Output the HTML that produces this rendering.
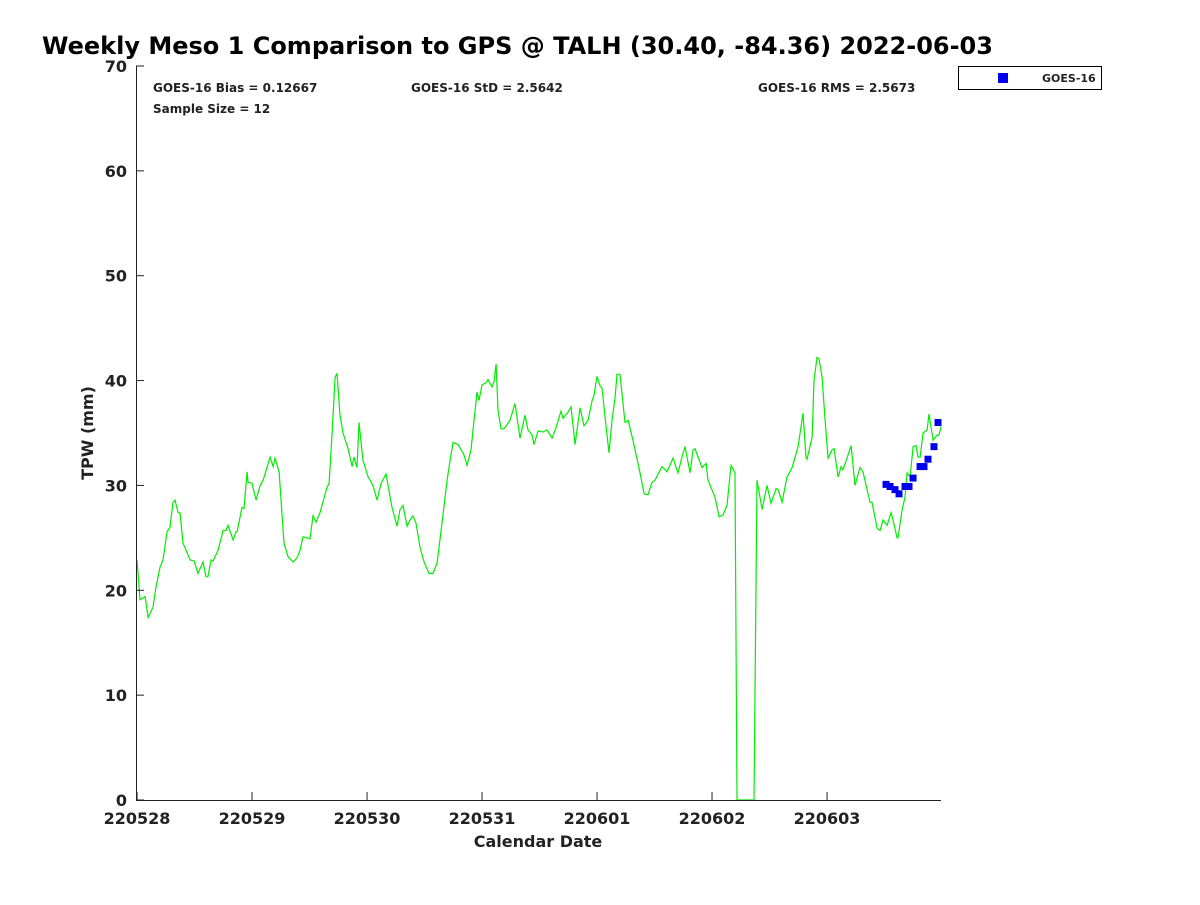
<!DOCTYPE html>
<html><head><meta charset="utf-8"><style>
body{margin:0;background:#fff;}
svg text{font-family:"DejaVu Sans","Liberation Sans",sans-serif;font-weight:bold;fill:#222;}
</style></head><body>
<svg id="chart" width="1200" height="900" xmlns="http://www.w3.org/2000/svg">
<rect width="1200" height="900" fill="#fff"/>
<text x="42" y="54" font-size="24" fill="#000" style="fill:#000">Weekly Meso 1 Comparison to GPS @ TALH (30.40, -84.36) 2022-06-03</text>
<text x="153" y="92" font-size="12">GOES-16 Bias = 0.12667</text>
<text x="411" y="92" font-size="12">GOES-16 StD = 2.5642</text>
<text x="758" y="92" font-size="12">GOES-16 RMS = 2.5673</text>
<text x="153" y="113" font-size="12">Sample Size = 12</text>
<g id="marks"></g>
<g id="axes"></g>
<text x="538" y="847" font-size="16" text-anchor="middle">Calendar Date</text>
<text transform="translate(93,433) rotate(-90)" font-size="16" text-anchor="middle">TPW (mm)</text>
<g>
<rect x="958.5" y="66.5" width="143" height="23" fill="#fff" stroke="#000" stroke-width="1"/>
<rect x="998" y="73" width="10" height="10" fill="#0000ee"/>
<text x="1042" y="82" font-size="11">GOES-16</text>
</g>
</svg>
<script>
const gpsDays=[0,0.026,0.070,0.096,0.139,0.165,0.200,0.226,0.261,0.287,0.313,0.330,0.357,0.374,0.400,0.461,0.496,0.530,0.574,0.600,0.617,0.643,0.661,0.704,0.748,0.774,0.791,0.835,0.861,0.870,0.913,0.930,0.957,0.965,1.000,1.035,1.070,1.096,1.130,1.157,1.183,1.200,1.235,1.278,1.313,1.357,1.391,1.417,1.443,1.478,1.504,1.530,1.557,1.591,1.652,1.670,1.696,1.722,1.739,1.765,1.791,1.835,1.870,1.887,1.913,1.930,1.965,2.009,2.052,2.087,2.122,2.165,2.217,2.261,2.287,2.313,2.348,2.374,2.400,2.426,2.461,2.496,2.539,2.574,2.609,2.652,2.696,2.722,2.748,2.791,2.843,2.870,2.904,2.930,2.957,2.974,3.000,3.035,3.052,3.087,3.104,3.122,3.139,3.165,3.191,3.243,3.287,3.330,3.374,3.400,3.435,3.452,3.487,3.530,3.565,3.609,3.643,3.687,3.704,3.748,3.774,3.809,3.852,3.887,3.922,3.957,3.974,4.000,4.026,4.043,4.070,4.104,4.130,4.157,4.174,4.200,4.243,4.270,4.313,4.374,4.409,4.443,4.478,4.504,4.565,4.609,4.661,4.704,4.739,4.765,4.809,4.835,4.852,4.913,4.948,4.965,5.026,5.061,5.096,5.130,5.165,5.200,5.217,5.365,5.391,5.435,5.478,5.513,5.557,5.574,5.609,5.652,5.696,5.748,5.791,5.817,5.826,5.870,5.887,5.913,5.930,5.957,5.983,6.009,6.043,6.061,6.096,6.122,6.139,6.174,6.209,6.243,6.287,6.313,6.374,6.391,6.435,6.461,6.487,6.522,6.557,6.574,6.609,6.617,6.652,6.678,6.696,6.722,6.748,6.774,6.791,6.809,6.835,6.870,6.887,6.922,6.957,6.974,6.991];
const gpsTpw=[22.9,19.1,19.4,17.4,18.4,20.3,22.2,22.9,25.6,26.0,28.4,28.6,27.4,27.4,24.5,22.9,22.8,21.6,22.7,21.3,21.3,22.9,22.8,23.8,25.7,25.7,26.2,24.8,25.6,25.6,27.9,27.8,31.3,30.3,30.2,28.6,30.0,30.5,31.7,32.7,31.8,32.6,31.3,24.5,23.2,22.7,23.1,23.8,25.1,25.0,24.9,27.1,26.5,27.4,29.8,30.2,35.0,40.3,40.7,36.7,35.0,33.5,31.8,32.7,31.7,36.0,32.4,30.8,30.0,28.6,30.2,31.1,27.9,26.1,27.7,28.1,26.1,26.7,27.1,26.4,24.1,22.7,21.6,21.6,22.6,26.4,30.5,32.4,34.1,33.9,32.9,31.9,33.4,36.2,38.9,38.1,39.6,39.8,40.1,39.4,39.9,41.6,37.2,35.4,35.4,36.2,37.8,34.5,36.7,35.3,34.8,33.9,35.2,35.1,35.3,34.5,35.5,37.1,36.4,37.0,37.5,33.9,37.4,35.7,36.2,38.1,38.6,40.4,39.5,39.3,36.5,33.1,36.2,38.4,40.6,40.6,36.0,36.2,34.3,31.2,29.2,29.1,30.3,30.5,31.8,31.3,32.6,31.2,32.7,33.7,31.2,33.4,33.5,31.7,32.1,30.5,28.9,27.0,27.2,28.1,31.9,31.2,0,0,30.5,27.7,30.0,28.3,29.7,29.6,28.4,30.8,31.7,33.7,36.9,32.7,32.5,34.6,40.0,42.2,42.1,40.3,36.2,32.6,33.4,33.5,30.8,31.8,31.5,32.6,33.8,30.0,31.7,31.3,28.4,28.4,25.9,25.7,26.7,26.2,27.4,26.7,25.0,25.0,27.6,28.9,31.2,30.8,33.7,33.8,32.7,32.7,35.0,35.3,36.8,34.3,34.8,34.8,35.6];
const goesDays=[6.513,6.548,6.591,6.626,6.678,6.713,6.748,6.809,6.843,6.878,6.930,6.965];
const goesTpw=[30.1,29.9,29.6,29.2,29.9,29.9,30.7,31.8,31.8,32.5,33.7,36.0];
const xTickLabels=["220528","220529","220530","220531","220601","220602","220603"];
const yTicks=[0,10,20,30,40,50,60,70];

const L=136,R=941,T=66,B=800,X0=-0.009,X1=6.991,Y0=0,Y1=70;
const xs=d=>L+(d-X0)/(X1-X0)*(R-L);
const ys=v=>B-(v-Y0)/(Y1-Y0)*(B-T);
const NS="http://www.w3.org/2000/svg";
const marks=document.getElementById('marks'),axes=document.getElementById('axes');
function mk(tag,attrs,parent){const e=document.createElementNS(NS,tag);for(const k in attrs)e.setAttribute(k,attrs[k]);parent.appendChild(e);return e;}

const line=mk('polyline',{points:gpsDays.map((d,i)=>xs(d).toFixed(1)+','+ys(gpsTpw[i]).toFixed(1)).join(' '),fill:'none',stroke:'#00ee00','stroke-width':1.2},marks);


goesDays.forEach((d,i)=>{
  const r=mk('rect',{x:xs(d)-3.5,y:ys(goesTpw[i])-3.5,width:7,height:7,fill:'#0000ee'},marks);
  
  
});
const ax=mk('path',{d:`M${L+0.5},${T}V${B+0.5}H${R}`,fill:'none',stroke:'#222','stroke-width':1},axes);


yTicks.forEach(v=>{
  const y=ys(v);
  const t=mk('line',{x1:L,x2:L+8,y1:y,y2:y,stroke:'#222'},axes);
  
  
  const tx=mk('text',{x:L-9,y:y+6,'font-size':16,'text-anchor':'end'},axes);
  tx.textContent=v;
  
  
});
xTickLabels.forEach((lab,i)=>{
  const x=xs(i);
  const t=mk('line',{x1:x,x2:x,y1:B,y2:B-8,stroke:'#222'},axes);
  
  
  const tx=mk('text',{x:x,y:B+24,'font-size':16,'text-anchor':'middle'},axes);
  tx.textContent=lab;
  
  
});
</script>
</body></html>
